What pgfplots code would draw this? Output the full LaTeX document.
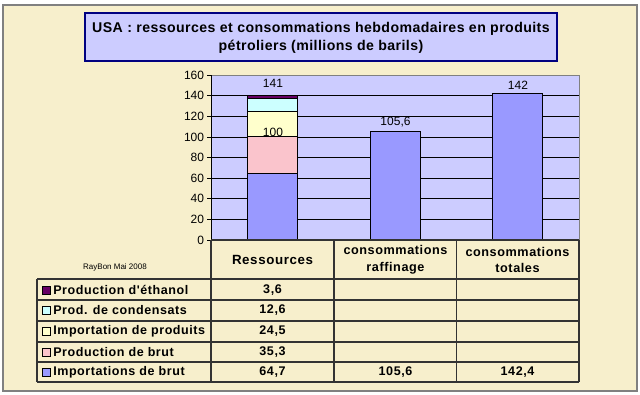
\documentclass[border=0pt]{standalone}
\usepackage{pgfplots}
\pgfplotsset{compat=1.18}
\usepackage{fontspec}
\setmainfont{Liberation Sans}
\newfontfamily\spaced[LetterSpace=4.5]{Liberation Sans}
\newfontfamily\spacedb[LetterSpace=3]{Liberation Sans}
\definecolor{bg}{RGB}{247,239,204}
\definecolor{lav}{RGB}{204,204,255}
\definecolor{navy}{RGB}{0,0,128}
\definecolor{cblue}{RGB}{153,153,255}
\definecolor{cpink}{RGB}{250,196,204}
\definecolor{cyel}{RGB}{255,255,204}
\definecolor{ccyan}{RGB}{204,255,255}
\definecolor{cpurp}{RGB}{102,0,102}
\begin{document}
\begin{tikzpicture}
\begin{scope}[x=0.75pt,y=-0.75pt]
\path[use as bounding box] (0,0) rectangle (640,394);
\fill[white] (0,0) rectangle (640,394);
\draw[fill=bg, draw=gray, line width=1.5pt] (3,5) rectangle (637,391);
\draw[fill=lav, draw=navy, line width=2.2pt] (85,13) rectangle (557,61);
\node[font=\spacedb\bfseries\fontsize{10.6}{13.5}\selectfont, align=center] at (321,37.5) {USA : ressources et consommations hebdomadaires en produits\\p\'etroliers (millions de barils)};
\end{scope}

\begin{axis}[at={(158.25pt,-180pt)}, anchor=south west, scale only axis,
  width=276pt, height=123.75pt, xmin=-0.5, xmax=2.5, ymin=0, ymax=160,
  ytick={0,20,...,160}, xtick=\empty, ytick pos=left,
  ymajorgrids, grid style={black, line width=0.5pt},
  axis background/.style={fill=lav},
  axis line style={draw=gray, line width=0.5pt},
  tick align=outside, major tick length=3pt,
  ytick style={black, line width=0.5pt},
  yticklabel style={font=\fontsize{9}{10}\selectfont, inner xsep=2pt},
  /pgf/number format/assume math mode=true,
  ybar stacked, bar width=37.5pt, clip=false,
  every axis plot/.append style={draw=black, line width=0.6pt}]
\addplot[fill=cblue] coordinates {(0,64.7) (1,105.6) (2,142.4)};
\addplot[fill=cpink] coordinates {(0,35.3) (1,0) (2,0)};
\addplot[fill=cyel] coordinates {(0,24.5) (1,0) (2,0)};
\addplot[fill=ccyan] coordinates {(0,12.6) (1,0) (2,0)};
\addplot[fill=cpurp] coordinates {(0,3.6) (1,0) (2,0)};
\end{axis}

\begin{scope}[x=0.75pt,y=-0.75pt]
% axis left line
\draw[black, line width=0.6pt] (211,75) -- (211,240);
% data labels
\begin{scope}[every node/.style={font=\fontsize{9}{10}\selectfont, inner sep=0pt}]
\node at (273,83) {141};
\node at (273,132) {100};
\node at (395.5,122) {105,6};
\node at (518,85) {142};
\end{scope}
% table
\begin{scope}[draw=black!80, line width=0.9pt]
\draw (211,240) -- (579,240);
\foreach \y in {279,300,321,342,362,382} \draw (37,\y) -- (579,\y);
\draw (37,279) -- (37,382);
\foreach \x in {211,334,456.5,579} \draw (\x,240) -- (\x,382);
\end{scope}
\node[font=\fontsize{6}{7}\selectfont] at (115,267) {RayBon Mai 2008};
\begin{scope}[every node/.style={font=\spaced\bfseries\fontsize{9.5}{12.5}\selectfont, align=center}]
\node at (272.5,260) {\fontsize{10}{12}\selectfont Ressources};
\node at (395.5,260) {consommations\\raffinage};
\node at (517.5,260) {consommations\\totales};
\end{scope}
\begin{scope}[every node/.style={font=\spaced\bfseries\fontsize{9.4}{11}\selectfont, anchor=west, inner sep=0pt}]
\node at (53,290) {Production d'\'ethanol};
\node at (53,310.5) {Prod. de condensats};
\node at (53,331.5) {Importation de produits};
\node at (53,352) {Production de brut};
\node at (53,372) {Importations de brut};
\end{scope}
\begin{scope}[draw=black, line width=0.5pt]
\filldraw[fill=cpurp] (42,286) rectangle (50,294);
\filldraw[fill=ccyan] (42,306.5) rectangle (50,314.5);
\filldraw[fill=cyel] (42,327.5) rectangle (50,335.5);
\filldraw[fill=cpink] (42,348) rectangle (50,356);
\filldraw[fill=cblue] (42,368) rectangle (50,376);
\end{scope}
\begin{scope}[every node/.style={font=\spaced\bfseries\fontsize{9.4}{11}\selectfont, inner sep=0pt}]
\node at (272.5,290) {3,6};
\node at (272.5,310.5) {12,6};
\node at (272.5,331.5) {24,5};
\node at (272.5,352) {35,3};
\node at (272.5,372) {64,7};
\node at (395.5,372) {105,6};
\node at (517.5,372) {142,4};
\end{scope}
\end{scope}
\end{tikzpicture}
\end{document}
